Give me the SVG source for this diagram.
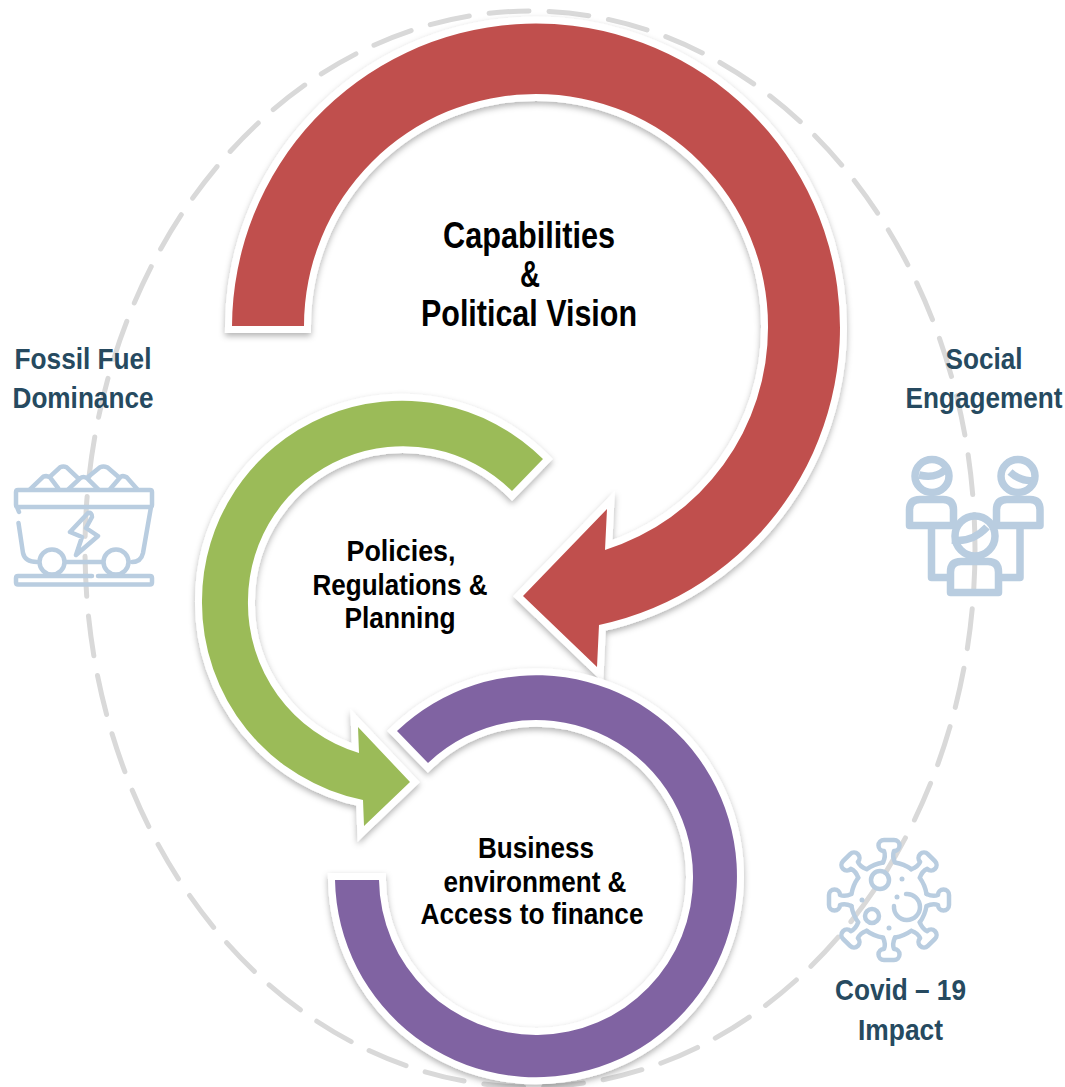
<svg xmlns="http://www.w3.org/2000/svg" xmlns:xlink="http://www.w3.org/1999/xlink" width="1065" height="1087" viewBox="0 0 1065 1087">
<defs>
<style>
.arrow{stroke:#fff;stroke-width:14;stroke-linejoin:miter;stroke-miterlimit:10;paint-order:stroke;filter:url(#sh)}
.t{font-family:"Liberation Sans",Arial,sans-serif;font-weight:700;text-anchor:middle;fill:#000}
.s{font-family:"Liberation Sans",Arial,sans-serif;font-weight:700;text-anchor:middle;fill:#264a60;font-size:30px}
.ic{fill:none;stroke:#b9cde0;stroke-width:4.500;stroke-linecap:round;stroke-linejoin:round}
.pp{fill:none;stroke:#b9cde0;stroke-width:7.500;stroke-linejoin:round}
.dot{fill:#b9cde0}
</style>
<filter id="sh" x="-10%" y="-10%" width="120%" height="120%">
<feDropShadow dx="0" dy="3" stdDeviation="3" flood-color="#000" flood-opacity="0.3"/>
</filter>
<path id="spike" d="M6,-37.500Q3,-44 5,-49A5.500,5.500 0 0 0 5,-60H-5A5.500,5.500 0 0 0 -5,-49Q-3,-44 -6,-37.500M6,-37.500A38,38 0 0 1 22.300,-30.800"/>
</defs>
<ellipse id="boundary" cx="530" cy="549" rx="445" ry="538" fill="none" stroke="#d9d9d9" stroke-width="5" stroke-linecap="round" stroke-dasharray="40 20"/>
<g id="connectors"></g>
<g id="capabilities">
<path class="arrow" fill="#c0504d" d="M232,326A304,304 0 1 1 599,625L597,667L523,596L607,509L605,550A233,233 0 0 0 768,326A232,232 0 1 0 304,326Z"/>
<text class="t" font-size="36" x="529" y="248" textLength="172" lengthAdjust="spacingAndGlyphs">Capabilities</text>
<text class="t" font-size="36" x="530" y="287" textLength="20" lengthAdjust="spacingAndGlyphs">&amp;</text>
<text class="t" font-size="36" x="529" y="326" textLength="216" lengthAdjust="spacingAndGlyphs">Political Vision</text>
</g>
<g id="policies">
<path class="arrow" fill="#9bbb59" d="M543,459A200,200 0 0 0 202,601A201,201 0 0 0 363,800L364,826L410,782L358,727L359,753A156,156 0 0 1 248,600A155,155 0 0 1 512,491Z"/>
<text class="t" font-size="30" x="401" y="561" textLength="109" lengthAdjust="spacingAndGlyphs">Policies,</text>
<text class="t" font-size="30" x="400" y="595" textLength="175" lengthAdjust="spacingAndGlyphs">Regulations &amp;</text>
<text class="t" font-size="30" x="400" y="628" textLength="111" lengthAdjust="spacingAndGlyphs">Planning</text>
</g>
<g id="business">
<path class="arrow" fill="#8064a2" d="M397,731A201,201 0 1 1 335,880L379,880A157,157 0 0 0 693,876A157,157 0 0 0 428,763Z"/>
<text class="t" font-size="30" x="536" y="858" textLength="116" lengthAdjust="spacingAndGlyphs">Business</text>
<text class="t" font-size="30" x="535" y="892" textLength="183" lengthAdjust="spacingAndGlyphs">environment &amp;</text>
<text class="t" font-size="30" x="532" y="924" textLength="223" lengthAdjust="spacingAndGlyphs">Access to finance</text>
</g>
<g id="fossil">
<text class="s" x="83" y="369" textLength="137" lengthAdjust="spacingAndGlyphs">Fossil Fuel</text>
<text class="s" x="83" y="408" textLength="141" lengthAdjust="spacingAndGlyphs">Dominance</text>
<path class="ic" d="M30,489.300L43.300,476.700Q46.700,475.300 50,477.300L58.300,488.300M50,476.700L60,467.300Q63.300,465.700 66.700,467.300L78.300,478.300M68.300,489.300L80,478.300Q83.300,475.700 87.300,478.300L98.300,489.300M88.300,476.700L100,467.300Q103.300,465.700 107.300,467.300L118.300,476.700M110,489.300L120.700,476.700Q123.300,475.300 126.700,477.300L137.300,489.300"/>
<path class="ic" d="M18,490H150Q152,490 152,492V505Q152,507 150,507H18Q16,507 16,505V492Q16,490 18,490ZM17,507L19,512M18.500,523L23,553Q25,562 37,562M65,562H103M132,562Q141,562 143,553L151,507M92,576H18Q16,576 16,578V582.500Q16,584.500 18,584.500H150Q152,584.500 152,582.500V578Q152,576 150,576H98M88,513L70,532L82,537L76,555L98,536L86,528L92,517Q92,512 88,513Z"/>
<circle class="ic" cx="52" cy="562" r="12.500"/>
<circle class="ic" cx="116" cy="562" r="12.500"/>
</g>
<g id="social">
<text class="s" x="984" y="369" textLength="77" lengthAdjust="spacingAndGlyphs">Social</text>
<text class="s" transform="translate(984 408) scale(.872 1)" x="0" y="0">Engagement</text>
<path class="pp" d="M919,475Q935,479 945,470M1010,472Q1022,483 1036,480M909.500,525.500V510Q909.500,499.500 920,499.500H943Q953.500,499.500 953.500,510V525.500ZM996.500,525.500V510Q996.500,499.500 1007,499.500H1030Q1040,499.500 1040,510V525.500ZM931.500,525.500V577.500H950M1020,525.500V577.500H1000M952,540Q972,543 987,527M950.500,592.500V572Q950.500,561.500 961,561.500H988Q998.500,561.500 998.500,572V592.500Z"/>
<ellipse class="pp" cx="932" cy="476" rx="17" ry="16.500"/>
<ellipse class="pp" cx="1018" cy="476" rx="17" ry="16.500"/>
<ellipse class="pp" cx="975" cy="536" rx="20" ry="20"/>
</g>
<g id="covid">
<g class="ic" transform="translate(889,900)">
<use xlink:href="#spike" href="#spike"/>
<use xlink:href="#spike" href="#spike" transform="rotate(45)"/>
<use xlink:href="#spike" href="#spike" transform="rotate(90)"/>
<use xlink:href="#spike" href="#spike" transform="rotate(135)"/>
<use xlink:href="#spike" href="#spike" transform="rotate(180)"/>
<use xlink:href="#spike" href="#spike" transform="rotate(225)"/>
<use xlink:href="#spike" href="#spike" transform="rotate(270)"/>
<use xlink:href="#spike" href="#spike" transform="rotate(315)"/>
</g>
<circle class="ic" cx="880" cy="880" r="9"/>
<circle class="ic" cx="872" cy="916" r="7"/>
<path class="ic" d="M906,894A13,13 0 1 1 894,906"/>
<circle class="dot" cx="902" cy="879" r="2.500"/>
<circle class="dot" cx="862" cy="900" r="2.500"/>
<circle class="dot" cx="889" cy="928" r="2.500"/>
<circle class="dot" cx="897" cy="897" r="2.500"/>
<text class="s" x="900.500" y="1000" textLength="131" lengthAdjust="spacingAndGlyphs">Covid – 19</text>
<text class="s" x="900.500" y="1040" textLength="85" lengthAdjust="spacingAndGlyphs">Impact</text>
</g>
</svg>
